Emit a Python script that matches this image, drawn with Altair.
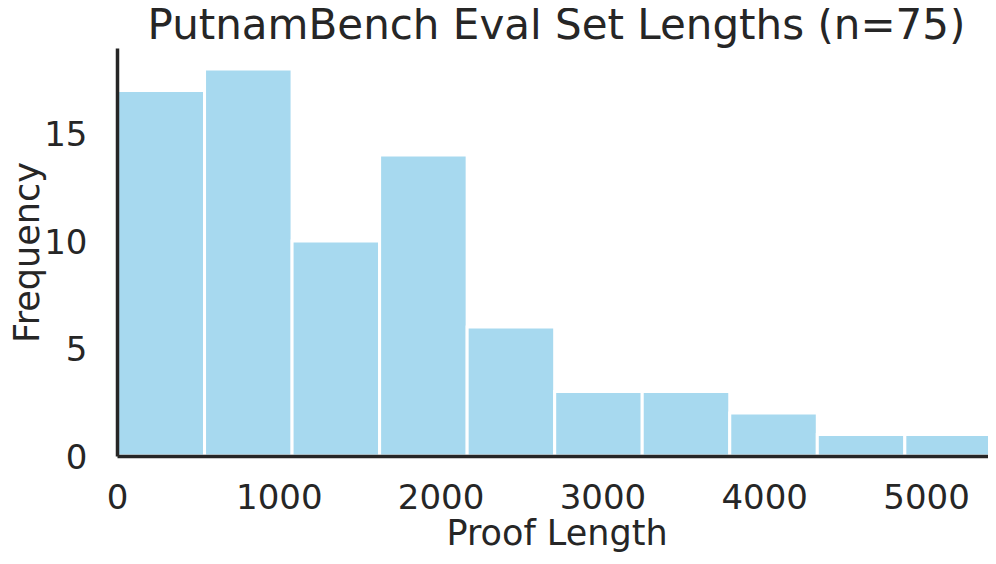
import altair as alt
import pandas as pd

# Histogram data
bin_start = [0, 541, 1082, 1623, 2164, 2705, 3246, 3787, 4328, 4869]
bin_end = [541, 1082, 1623, 2164, 2705, 3246, 3787, 4328, 4869, 5410]
counts = [17, 18, 10, 14, 6, 3, 3, 2, 1, 1]
x_ticks = [0, 1000, 2000, 3000, 4000, 5000]
y_ticks = [0, 5, 10, 15]

df = pd.DataFrame({"start": bin_start, "end": bin_end, "count": counts})

TEXT = "#262626"
FONT = "DejaVu Sans"

x_axis = alt.Axis(
    values=x_ticks, title="Proof Length", format="d", grid=False,
    ticks=False, tickSize=0, labelPadding=25, labelFontSize=34,
    labelColor=TEXT, labelFont=FONT, labelFlush=False, labelOverlap=False,
    domainColor=TEXT, domainWidth=3.5, titleFontSize=35, titleFont=FONT,
    titleColor=TEXT, titleFontWeight="normal", titleX=439.5, titleY=88,
    titleBaseline="alphabetic", titleAlign="center", zindex=1,
)

y_axis = alt.Axis(
    values=y_ticks, title="Frequency", format="d", grid=False,
    ticks=False, tickSize=0, labelPadding=30, labelFontSize=34,
    labelColor=TEXT, labelFont=FONT, labelFlush=False, labelOverlap=False,
    labelBaseline="middle", labelOffset=2,
    domainColor=TEXT, domainWidth=3.5, titleFontSize=35, titleFont=FONT,
    titleColor=TEXT, titleFontWeight="normal", titleAngle=270,
    titleX=-79, titleY=204, titleBaseline="alphabetic", titleAlign="center",
    zindex=1,
)

chart = (
    alt.Chart(df)
    .mark_bar(color="#A7D9EF", stroke="white", strokeWidth=3)
    .encode(
        x=alt.X("start:Q", scale=alt.Scale(domain=[0, 5383], nice=False, zero=False), axis=x_axis),
        x2="end:Q",
        y=alt.Y("count:Q", scale=alt.Scale(domain=[0, 18.98], nice=False), axis=y_axis),
        y2=alt.datum(0),
    )
    .properties(
        width=871,
        height=408,
        padding={"left": 109, "top": 40, "right": 0, "bottom": 96},
        autosize=alt.AutoSizeParams(type="none"),
        title=alt.TitleParams(
            text="PutnamBench Eval Set Lengths (n=75)", fontSize=42, font=FONT,
            color=TEXT, fontWeight="normal", anchor="middle", frame="group",
            baseline="top", offset=0, dx=4,
        ),
    )
    .configure_view(stroke="transparent")
)

chart.save("out.html", embed_options={"renderer": "svg", "actions": False})
